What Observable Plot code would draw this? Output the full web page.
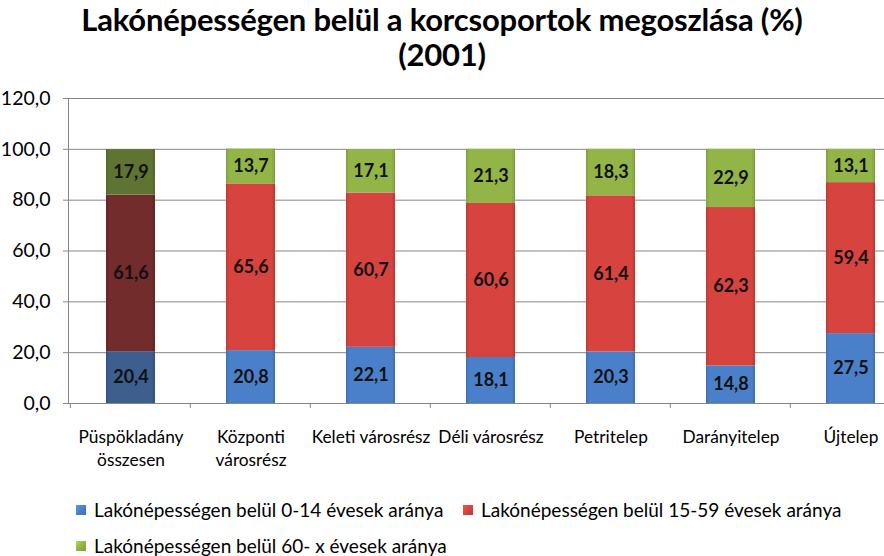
<!DOCTYPE html>
<html>
<head>
<meta charset="utf-8">
<script src="https://cdn.jsdelivr.net/npm/d3@7"></script>
<script src="https://cdn.jsdelivr.net/npm/@observablehq/plot@0.6"></script>
<style>
  html, body { margin: 0; padding: 0; background: #fff; width: 884px; height: 556px; overflow: hidden; }
  body { position: relative; font-family: Lato, "Open Sans", sans-serif; }
  .title { position: absolute; left: 0; width: 884px; text-align: center; font-weight: 700; font-size: 31px; line-height: 36px; color: #000; letter-spacing: -0.2px; white-space: nowrap; }
  #t1 { top: 1px; }
  #t2 { top: 36px; }
  #chart { position: absolute; left: 0; top: 85px; }
  .leg { position: absolute; font-size: 19px; line-height: 20px; color: #000; white-space: nowrap; display: flex; align-items: center; }
  .sw { width: 10px; height: 10px; margin-right: 8px; }
</style>
</head>
<body>
<div class="title" id="t1">Lakónépességen belül a korcsoportok megoszlása (%)</div>
<div class="title" id="t2">(2001)</div>
<div id="chart"></div>
<div id="legend"></div>
<script>
const categories = ["Püspökladány összesen", "Központi városrész", "Keleti városrész", "Déli városrész", "Petritelep", "Darányitelep", "Újtelep"];
const categoryLabels = ["Püspökladány\nösszesen", "Központi\nvárosrész", "Keleti városrész", "Déli városrész", "Petritelep", "Darányitelep", "Újtelep"];
const seriesNames = ["Lakónépességen belül 0-14 évesek aránya", "Lakónépességen belül 15-59 évesek aránya", "Lakónépességen belül 60- x évesek aránya"];
const age0to14 = [20.4, 20.8, 22.1, 18.1, 20.3, 14.8, 27.5];
const age15to59 = [61.6, 65.6, 60.7, 60.6, 61.4, 62.3, 59.4];
const age60plus = [17.9, 13.7, 17.1, 21.3, 18.3, 22.9, 13.1];
const yTicks = [0, 20, 40, 60, 80, 100, 120];

const seriesColors = ["#4a80c9", "#d7433e", "#93b548"];
const totalColors = ["#3c5f8e", "#722c2c", "#5f7433"];
const seriesValues = [age0to14, age15to59, age60plus];

const rows = [];
seriesValues.forEach((vals, s) => {
  vals.forEach((v, i) => {
    rows.push({category: categories[i], series: seriesNames[s], s, i, value: v,
      grad: `url(#g${i === 0 ? "d" : "n"}${s})`});
  });
});

function shade(c, k) { const col = d3.color(c); return (k > 0 ? col.brighter(k) : col.darker(-k)).formatHex(); }

const defsMark = () => {
  const ns = "http://www.w3.org/2000/svg";
  const defs = document.createElementNS(ns, "defs");
  [["n", seriesColors], ["d", totalColors]].forEach(([key, cols]) => {
    cols.forEach((c, s) => {
      const g = document.createElementNS(ns, "linearGradient");
      g.setAttribute("id", `g${key}${s}`);
      g.setAttribute("x1", "0"); g.setAttribute("x2", "1"); g.setAttribute("y1", "0"); g.setAttribute("y2", "0");
      [[0, shade(c, -0.35)], [0.07, c], [0.5, c], [0.93, c], [1, shade(c, -0.45)]].forEach(([o, col]) => {
        const st = document.createElementNS(ns, "stop");
        st.setAttribute("offset", o); st.setAttribute("stop-color", col);
        g.appendChild(st);
      });
      defs.appendChild(g);
    });
  });
  return defs;
};

const padInner = 0.595;

const boundaryTicks = (index, scales, values, dimensions) => {
  const ns = "http://www.w3.org/2000/svg";
  const g = document.createElementNS(ns, "g");
  const x = scales.x, y = scales.y;
  const step = x(categories[1]) - x(categories[0]);
  const bw = step * (1 - padInner);
  const y0 = y(0);
  for (let i = 0; i <= categories.length; i++) {
    const bx = (i < categories.length ? x(categories[i]) : x(categories[i - 1]) + step) + bw / 2 - step / 2;
    const l = document.createElementNS(ns, "line");
    l.setAttribute("x1", bx); l.setAttribute("x2", bx);
    l.setAttribute("y1", y0); l.setAttribute("y2", y0 + 5);
    l.setAttribute("stroke", "#868686");
    g.appendChild(l);
  }
  return g;
};

const chart = Plot.plot({
  width: 884,
  height: 390,
  marginTop: 13,
  marginBottom: 72,
  marginLeft: 68,
  marginRight: 0,
  style: {fontFamily: "Lato, sans-serif", background: "transparent", overflow: "visible"},
  x: {domain: categories, range: [68, 913], paddingInner: padInner, paddingOuter: padInner / 2, label: null},
  y: {domain: [0, 120], label: null},
  color: {type: "identity"},
  marks: [
    defsMark,
    Plot.ruleY(yTicks, {y: d => d, stroke: "#868686", strokeWidth: 1}),
    Plot.barY(rows, Plot.stackY({x: "category", y: "value", z: "s", order: null, fill: "grad"})),
    Plot.text(rows, Plot.stackY({x: "category", y: "value", z: "s", order: null, text: d => d.value.toFixed(1).replace(".", ","), fill: "#111", fontWeight: "bold", fontSize: 18})),
    Plot.axisY({ticks: yTicks, tickFormat: d => d.toFixed(1).replace(".", ","), tickSize: 5, tickPadding: 13, stroke: "#868686", fontSize: 19.5, fill: "#000", label: null}),
    Plot.axisX({tickSize: 0, tickPadding: 24, tickFormat: d => categoryLabels[categories.indexOf(d)], fontSize: 17.3, fill: "#000", lineHeight: 1.3, label: null}),
    Plot.frame({anchor: "left", stroke: "#868686"}),
    Plot.frame({anchor: "bottom", stroke: "#868686"}),
    boundaryTicks
  ]
});
document.getElementById("chart").appendChild(chart);

const legendPos = [[76, 500], [463, 500], [76, 536]];
const legend = document.getElementById("legend");
seriesNames.forEach((name, s) => {
  const item = document.createElement("div");
  item.className = "leg";
  item.style.left = legendPos[s][0] + "px";
  item.style.top = legendPos[s][1] + "px";
  const sw = document.createElement("div");
  sw.className = "sw";
  sw.style.background = `linear-gradient(135deg, ${shade(seriesColors[s], 0.5)}, ${seriesColors[s]} 50%, ${shade(seriesColors[s], -0.4)})`;
  item.appendChild(sw);
  const t = document.createElement("span");
  t.textContent = name;
  item.appendChild(t);
  legend.appendChild(item);
});
</script>
</body>
</html>
